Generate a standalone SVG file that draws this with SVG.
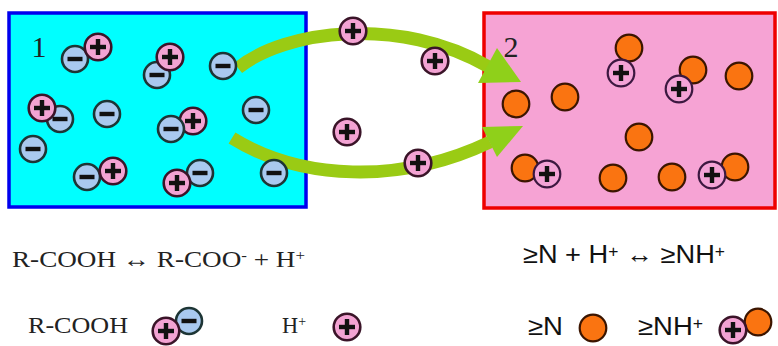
<svg xmlns="http://www.w3.org/2000/svg" xmlns:xlink="http://www.w3.org/1999/xlink" width="778" height="346" viewBox="0 0 778 346">
<style>
.serif{font-family:"Liberation Serif","Times New Roman",serif;fill:#222}
.sans{font-family:"Liberation Sans",Arial,sans-serif;fill:#111}
.shaft{fill:none;stroke:#9acb14;stroke-width:13}
.head{fill:#8fd01a}
</style>
<defs>
<g id="neg"><circle r="13" fill="#a9c9ef" stroke="#1d3535" stroke-width="2.6"/><rect x="-7.5" y="-2.2" width="15" height="4.4" fill="#111"/></g>
<g id="pos"><circle r="13.3" fill="#f3a3d3" stroke="#3a1428" stroke-width="2.6"/><rect x="-8" y="-2.2" width="16" height="4.4" fill="#111"/><rect x="-2.2" y="-8" width="4.4" height="16" fill="#111"/></g>
<g id="pos2"><circle r="13.3" fill="#f3a3d6" stroke="#3c1840" stroke-width="2.2"/><rect x="-8" y="-2.2" width="16" height="4.4" fill="#111"/><rect x="-2.2" y="-8" width="4.4" height="16" fill="#111"/></g>
<g id="org"><circle r="13.3" fill="#fa7411" stroke="#3b1500" stroke-width="2.2"/></g>
</defs>
<rect width="778" height="346" fill="#fff"/>

<g id="box1">
<rect x="9" y="13" width="297" height="194" fill="#00ffff" stroke="#0000ee" stroke-width="3.5"/>
<text class="serif" x="39" y="57" font-size="30" text-anchor="middle" fill="#1a4040">1</text>
</g>
<g id="box2">
<rect x="484" y="13" width="291" height="195" fill="#f6a3d4" stroke="#ee0000" stroke-width="3.5"/>
<text class="serif" x="511" y="57" font-size="30" text-anchor="middle" fill="#3a1a40">2</text>
</g>

<g id="connectors">
<path class="shaft" d="M238,68 C285,30 400,15 489,67"/>
<polygon class="head" points="497,48 478,83 521,82"/>
<path class="shaft" d="M232,138 C300,180 400,185 490,142"/>
<polygon class="head" points="482,127 497,157 523,126"/>
</g>

<g id="box1-ions">
<use xlink:href="#neg" x="75" y="59"/><use xlink:href="#pos" x="98" y="47"/>
<use xlink:href="#neg" x="157" y="75"/><use xlink:href="#pos" x="170" y="57"/>
<use xlink:href="#neg" x="223" y="66"/>
<use xlink:href="#neg" x="60" y="119"/><use xlink:href="#pos" x="42" y="108"/>
<use xlink:href="#neg" x="107" y="114"/>
<use xlink:href="#pos" x="193" y="121"/><use xlink:href="#neg" x="171" y="129"/>
<use xlink:href="#neg" x="256" y="110"/>
<use xlink:href="#neg" x="33" y="149"/>
<use xlink:href="#neg" x="87" y="177"/><use xlink:href="#pos" x="113" y="171"/>
<use xlink:href="#neg" x="200" y="173"/><use xlink:href="#pos" x="177" y="183"/>
<use xlink:href="#neg" x="274" y="173"/>
</g>

<g id="moving-ions">
<use xlink:href="#pos" x="353" y="31"/>
<use xlink:href="#pos" x="435" y="61"/>
<use xlink:href="#pos" x="347" y="132"/>
<use xlink:href="#pos" x="418" y="163"/>
</g>

<g id="box2-ions">
<use xlink:href="#org" x="516" y="104"/>
<use xlink:href="#org" x="565" y="97"/>
<use xlink:href="#org" x="629" y="48"/><use xlink:href="#pos2" x="621" y="73"/>
<use xlink:href="#org" x="693" y="70"/><use xlink:href="#pos2" x="679" y="89"/>
<use xlink:href="#org" x="739" y="76"/>
<use xlink:href="#org" x="639" y="137"/>
<use xlink:href="#org" x="525" y="168"/><use xlink:href="#pos2" x="547" y="174"/>
<use xlink:href="#org" x="613" y="178"/>
<use xlink:href="#org" x="672" y="177"/>
<use xlink:href="#org" x="735" y="167"/><use xlink:href="#pos2" x="712" y="175"/>
</g>

<g id="legend">
<text class="serif" x="12" y="267" font-size="24" textLength="293" lengthAdjust="spacingAndGlyphs">R-COOH ↔ R-COO<tspan font-size="15" baseline-shift="45%">-</tspan> + H<tspan font-size="15" baseline-shift="45%">+</tspan></text>
<text class="serif" x="28" y="333" font-size="24" textLength="100" lengthAdjust="spacingAndGlyphs">R-COOH</text>
<use xlink:href="#neg" x="189" y="321"/><use xlink:href="#pos" x="166" y="331"/>
<text class="serif" x="282" y="333" font-size="24" textLength="24" lengthAdjust="spacingAndGlyphs">H<tspan font-size="15" baseline-shift="45%">+</tspan></text>
<use xlink:href="#pos" x="347" y="327"/>

<text class="sans" x="523" y="263" font-size="25" textLength="202" lengthAdjust="spacingAndGlyphs">≥N + H<tspan font-size="16" baseline-shift="40%">+</tspan> ↔ ≥NH<tspan font-size="16" baseline-shift="40%">+</tspan></text>
<text class="sans" x="528" y="335" font-size="25" textLength="35" lengthAdjust="spacingAndGlyphs">≥N</text>
<use xlink:href="#org" x="593" y="328"/>
<text class="sans" x="638" y="335" font-size="25" textLength="65" lengthAdjust="spacingAndGlyphs">≥NH<tspan font-size="16" baseline-shift="40%">+</tspan></text>
<use xlink:href="#org" x="758" y="322"/><use xlink:href="#pos" x="733" y="330"/>
</g>
</svg>
